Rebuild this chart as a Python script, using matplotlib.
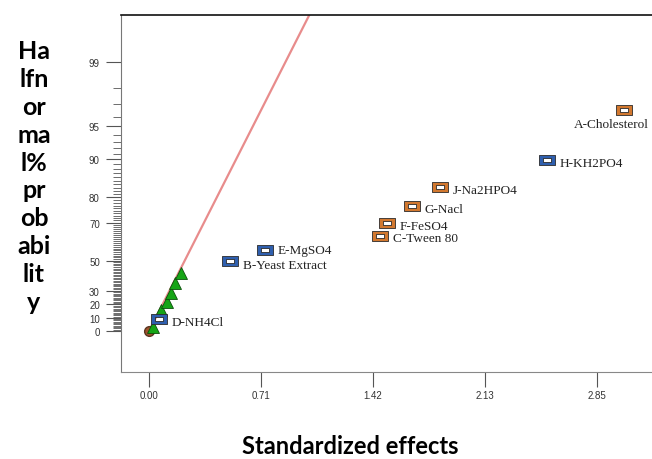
import numpy as np
import matplotlib
matplotlib.use('Agg')
import matplotlib.pyplot as plt
from matplotlib.path import Path
from statistics import NormalDist

# effects: standardized effect and half-normal % probability
labels = ['D-NH4Cl', 'B-Yeast Extract', 'E-MgSO4', 'C-Tween 80', 'F-FeSO4',
          'G-Nacl', 'J-Na2HPO4', 'H-KH2PO4', 'A-Cholesterol']
effects = [0.062, 0.517, 0.740, 1.473, 1.516, 1.676, 1.851, 2.536, 3.025]
probs = [9.2, 49.6, 56.2, 63.9, 69.8, 76.8, 83.1, 89.9, 96.6]
signs = ['neg', 'neg', 'neg', 'pos', 'pos', 'pos', 'pos', 'neg', 'pos']

# error terms (green triangles)
err_x = [0.026, 0.079, 0.113, 0.140, 0.166, 0.202]
err_p = [2.8, 15.9, 22.1, 28.2, 35.2, 42.2]
zero_x = [0.0]
zero_p = [0.0]

# reference line
line_x = [0.0, 1.1]
line_p = [0.0, 99.89]

xticks = [0.0, 0.7125, 1.425, 2.1375, 2.85]
xtick_labels = ['0.00', '0.71', '1.42', '2.13', '2.85']
yticks = [0, 10, 20, 30, 50, 70, 80, 90, 95, 99]

nd = NormalDist()


def _fwd(p):
    p = min(abs(p), 99.9999) * np.sign(p)
    return np.sign(p) * nd.inv_cdf(0.5 + abs(p) / 200.0)


def _inv(z):
    z = max(min(z, 8.0), -8.0)
    return np.sign(z) * (2 * nd.cdf(abs(z)) - 1) * 100.0


fwd = np.vectorize(_fwd, otypes=[float])
inv = np.vectorize(_inv, otypes=[float])

# rectangle marker with a hole
outer = [(-1.4, -0.85), (1.4, -0.85), (1.4, 0.85), (-1.4, 0.85), (-1.4, -0.85)]
inner = [(-0.8, -0.35), (-0.8, 0.35), (0.8, 0.35), (0.8, -0.35), (-0.8, -0.35)]
codes = [Path.MOVETO] + [Path.LINETO] * 3 + [Path.CLOSEPOLY]
box = Path(outer + inner, codes + codes)

colors = {'pos': '#d2782f', 'neg': '#2f5fae'}

fig = plt.figure(figsize=(6.52, 4.6), dpi=100)
ax = fig.add_axes([120.7 / 652, 87 / 460, 531 / 652, 357 / 460])
ax.set_yscale('function', functions=(fwd, inv))

ax.plot(line_x, line_p, color='#e88c8c', lw=1.6, zorder=1)
ax.plot(zero_x, zero_p, 'o', ms=7, mfc='#a0522d', mec='#5a3520', zorder=2)
ax.plot(err_x, err_p, '^', ms=9, mfc='#16a516', mec='#0b500b', mew=0.6, zorder=3)

for x, p, s, lab in zip(effects, probs, signs, labels):
    ax.plot(x, p, marker=box, ms=11, mfc=colors[s], mec='#2a2a2a', mew=0.6,
            ls='none', zorder=4)
    if lab == 'A-Cholesterol':
        off, ha = (-9, -10), 'center'
    elif lab == 'E-MgSO4':
        off, ha = (9, 0), 'left'
    elif lab == 'B-Yeast Extract':
        off, ha = (9, -3), 'left'
    else:
        off, ha = (9, -2), 'left'
    ax.annotate(lab, (x, p), xytext=off, textcoords='offset points',
                ha=ha, va='center', family='Liberation Serif',
                fontsize=9.5, color='#222222')

ax.set_xlim(-0.1805, 3.20)
ax.set_ylim(-30.6, 99.753)

ax.set_xticks(xticks)
ax.set_xticklabels(xtick_labels)
ax.set_yticks(yticks)
ax.set_yticklabels([str(t) for t in yticks])
ax.set_yticks([v for v in range(1, 99) if v not in yticks], minor=True)
ax.xaxis.set_minor_locator(matplotlib.ticker.NullLocator())

ax.tick_params(axis='both', which='major', direction='out', length=11,
               width=0.8, color='#555555', labelsize=7, labelcolor='#333333',
               pad=4)
ax.tick_params(axis='x', which='major', pad=2)
ax.tick_params(axis='y', which='minor', direction='out', length=6,
               width=0.6, color='#555555')
for t in ax.get_xticklabels() + ax.get_yticklabels():
    t.set_family('Liberation Sans')

ax.spines['right'].set_visible(False)
ax.spines['top'].set_color('#111111')
ax.spines['top'].set_linewidth(1.2)
ax.spines['left'].set_color('#777777')
ax.spines['bottom'].set_color('#888888')

fig.text(34 / 652, 1 - 177 / 460, 'Ha\nlfn\nor\nma\nl%\npr\nob\nabi\nlit\ny',
         ha='center', va='center', family='Lato', fontweight='bold',
         fontsize=18, linespacing=1.26, color='black')
fig.text(350 / 652, 1 - 447 / 460, 'Standardized effects', ha='center',
         va='center', family='Lato', fontweight='bold', fontsize=17,
         color='black')

fig.savefig('out.png', dpi=100)
